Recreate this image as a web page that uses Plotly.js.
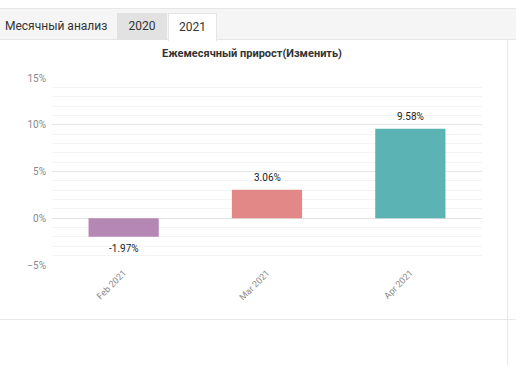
<!DOCTYPE html>
<html>
<head>
<meta charset="utf-8">
<script src="https://cdn.plot.ly/plotly-3.0.1.min.js"></script>
<style>
  html, body { margin:0; padding:0; width:516px; height:365px; overflow:hidden; background:#fff; font-family: Roboto, "Noto Sans", sans-serif; }
  #strip { position:absolute; left:0; top:8px; width:516px; height:32px; background:#f5f5f5; border-top:1px solid #e6e6e6; border-bottom:1px solid #e6e6e6; box-sizing:border-box; }
  .tab { position:absolute; top:13px; height:28px; line-height:27px; font-size:12px; color:#333; box-sizing:border-box; text-align:center; }
  #t0 { left:0; width:116px; text-align:left; padding-left:5px; }
  #t1 { left:117px; width:50px; background:#e2e2e2; height:27px; }
  #t2 { left:168px; width:49px; background:#fff; border:1px solid #e6e6e6; border-bottom:none; }
  #vline { position:absolute; left:507px; top:40px; width:1px; height:325px; background:#e8e8e8; }
  #hline { position:absolute; left:0; top:319px; width:516px; height:1px; background:#e8e8e8; }
  #chart { position:absolute; left:0; top:0; width:516px; height:365px; }
</style>
</head>
<body>
<div id="strip"></div>
<div class="tab" id="t0">Месячный анализ</div>
<div class="tab" id="t1">2020</div>
<div class="tab" id="t2">2021</div>
<div id="vline"></div>
<div id="hline"></div>
<div id="chart"></div>
<script>
const categories = ['Feb 2021', 'Mar 2021', 'Apr 2021'];
const growth = [-1.97, 3.06, 9.58];
const barColors = ['#b587b5', '#e28887', '#5bb4b3'];
const chartTitle = 'Ежемесячный прирост(Изменить)';

const trace = {
  type: 'bar',
  x: categories,
  y: growth,
  marker: { color: barColors },
  width: 0.49,
  hoverinfo: 'none'
};

const labels = categories.map((c, i) => ({
  x: c, y: growth[i], xref: 'x', yref: 'y',
  text: growth[i].toFixed(2) + '%',
  showarrow: false,
  yshift: growth[i] >= 0 ? 12 : -12,
  font: { size: 10, color: '#222', family: 'Roboto, sans-serif' }
}));

const layout = {
  width: 516, height: 365,
  paper_bgcolor: 'rgba(0,0,0,0)',
  plot_bgcolor: 'rgba(0,0,0,0)',
  margin: { l: 52, r: 34, t: 78, b: 100 },
  showlegend: false,
  annotations: labels,
  title: {
    text: '<b>' + chartTitle + '</b>',
    x: 252 / 516, xanchor: 'center', xref: 'container',
    y: 1 - 53 / 365, yanchor: 'middle', yref: 'container',
    font: { size: 11, color: '#333', family: 'Roboto, sans-serif' }
  },
  xaxis: {
    type: 'category',
    tickangle: -45,
    tickfont: { size: 9, color: '#888', family: 'Roboto, sans-serif' },
    showgrid: false, zeroline: false, showline: false,
    ticks: '', ticklen: 0
  },
  yaxis: {
    range: [-5, 15],
    dtick: 5,
    ticksuffix: '%',
    ticklabelstandoff: 5,
    tickfont: { size: 10, color: '#888', family: 'Roboto, sans-serif' },
    gridcolor: '#e6e6e6', gridwidth: 1,
    zeroline: true, zerolinecolor: '#e2e2e2', zerolinewidth: 1,
    showline: false,
    minor: { dtick: 1, showgrid: true, gridcolor: '#f4f4f4', gridwidth: 1 },
    ticks: '', ticklen: 0
  }
};

Plotly.newPlot('chart', [trace], layout, { staticPlot: true, displayModeBar: false });
</script>
</body>
</html>
